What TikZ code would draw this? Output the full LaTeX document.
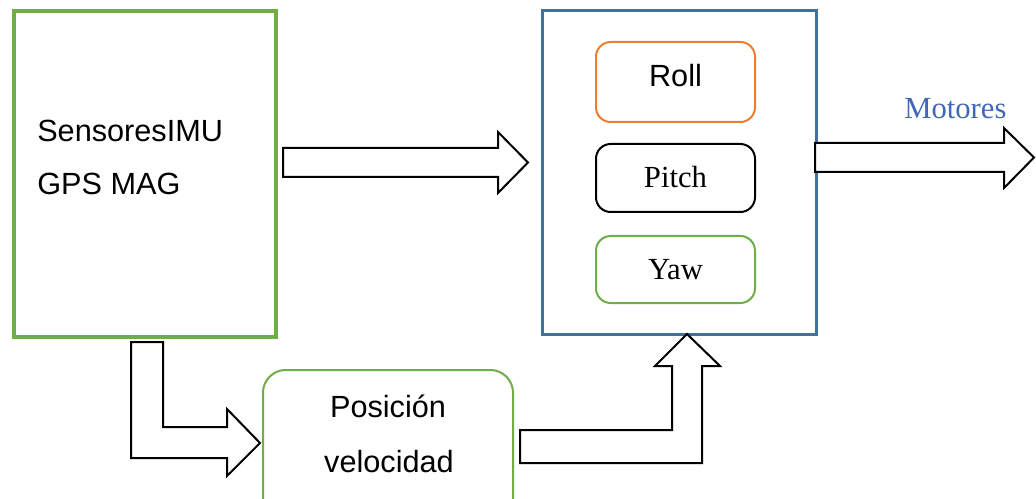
\documentclass[tikz,border=0pt]{standalone}
\usepackage{fontspec}
\setmainfont{Liberation Serif}
\newfontfamily\arialf{Liberation Sans}
\definecolor{bgreen}{HTML}{70AD47}
\definecolor{orng}{HTML}{ED7D31}
\definecolor{bblue}{HTML}{41719C}
\definecolor{mblue}{HTML}{3F68B8}
\tikzset{
  bigbox/.style={draw, inner sep=0pt, outer sep=0pt},
  innerbox/.style={draw, line width=1.5pt, rounded corners=11pt, inner sep=0pt, outer sep=0pt,
    minimum width=119.25pt, minimum height=60pt},
  blockarrow/.style={draw=black, fill=white, line width=1.5pt, line join=miter},
  sanslbl/.style={font=\arialf\fontsize{23}{28}\selectfont, inner sep=0pt},
  seriflbl/.style={font=\fontsize{23}{28}\selectfont, inner sep=0pt}
}
\begin{document}
\begin{tikzpicture}[x=0.75pt,y=-0.75pt]
\useasboundingbox (0,0) rectangle (1036,499);
\clip (0,0) rectangle (1036,499);

% sensors box
\node[bigbox, draw=bgreen, line width=3pt, minimum width=196.5pt, minimum height=244.5pt] (sens) at (145,174) {};
\node[sanslbl, anchor=base west] (sensA) at (37,142) {SensoresIMU};
\node[sanslbl, anchor=base west] (sensB) at (37,195) {GPS MAG};

% controller box
\node[bigbox, draw=bblue, line width=2.25pt, minimum width=205.5pt, minimum height=242.25pt] (ctrl) at (679,172.5) {};
\node[innerbox, draw=orng] (roll) at (675.5,82) {};
\node[sanslbl, anchor=base] (rollT) at (675.5,87) {Roll};
\node[innerbox, draw=black, minimum height=51pt] (pitch) at (675.5,178) {};
\node[seriflbl, anchor=base] (pitchT) at (675.5,188) {Pitch};
\node[innerbox, draw=bgreen, minimum height=50.25pt] (yaw) at (675.5,269.5) {};
\node[seriflbl, anchor=base] (yawT) at (675.5,280) {Yaw};

% position box
\node[bigbox, draw=bgreen, line width=1.5pt, rounded corners=17pt, minimum width=187.5pt, minimum height=123.75pt] (pos) at (388,452.5) {};
\node[sanslbl, anchor=base] (posA) at (388,417) {Posición};
\node[sanslbl, anchor=base] (posB) at (389,472) {velocidad};

% output label
\node[seriflbl, anchor=base west, text=mblue] (mot) at (904,119) {Motores};

% block arrows
\draw[blockarrow] (283,148) -- (498,148) -- (498,132) -- (528,162.5) -- (498,193) -- (498,177) -- (283,177) -- cycle;
\draw[blockarrow] (815,143) -- (1004,143) -- (1004,128) -- (1034,157.5) -- (1004,188) -- (1004,172) -- (815,172) -- cycle;
\draw[blockarrow] (131,342) -- (163,342) -- (163,427) -- (227,427) -- (227,409) -- (260,443) -- (227,476) -- (227,458) -- (131,458) -- cycle;
\draw[blockarrow] (520,430) -- (672,430) -- (672,366) -- (655,366) -- (687,334) -- (720,366) -- (702,366) -- (702,463) -- (520,463) -- cycle;
\end{tikzpicture}
\end{document}
